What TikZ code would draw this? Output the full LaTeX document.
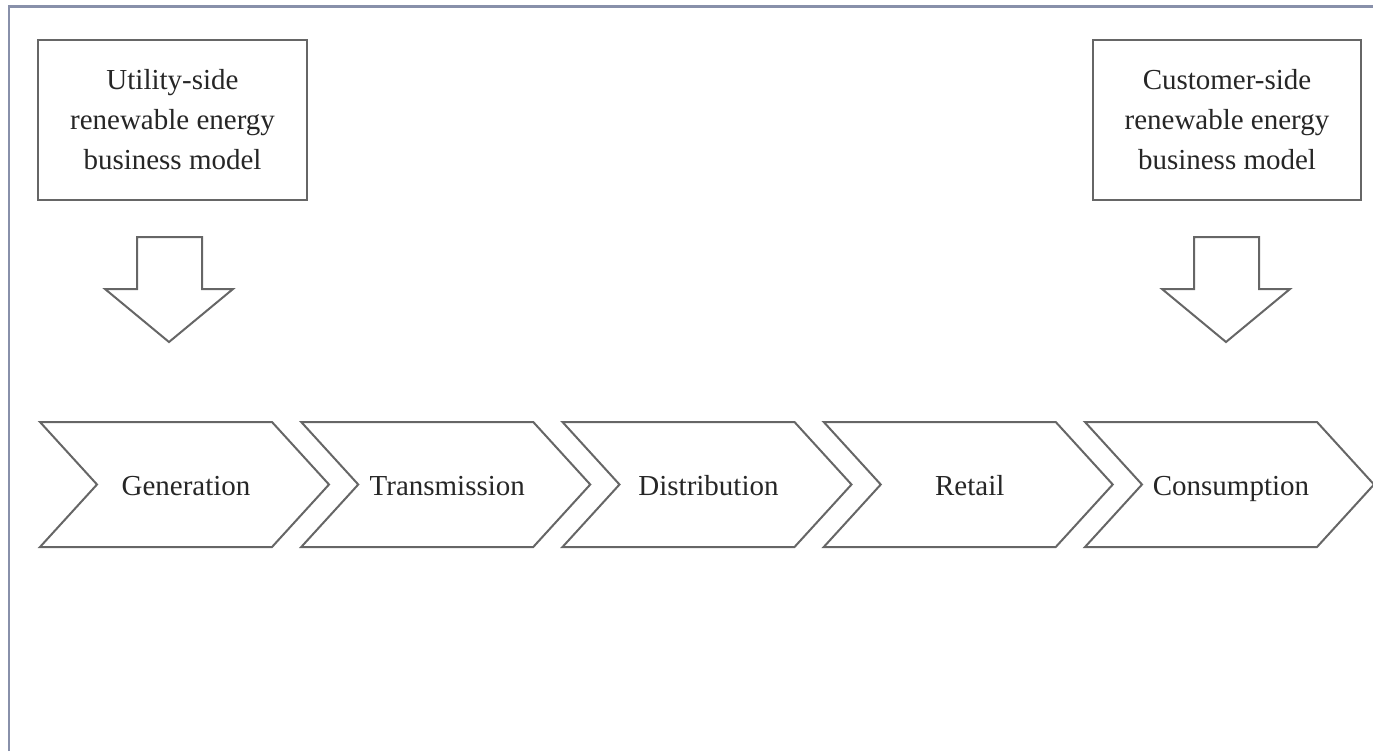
\documentclass[tikz,border=0pt]{standalone}
\usepackage{fontspec}
\setmainfont{Liberation Serif}

\tikzset{
	frameline/.style={line width=0.06cm, color={rgb,255:red,136;green,144;blue,170}},
	stageline/.style={line width=0.04cm, draw=black!60},
	modelbox/.style={stageline, minimum width=5.38cm, minimum height=3.2cm, inner sep=0pt},
	lbl/.style={text=black!85, font=\fontsize{16.5}{22.8}\selectfont, align=center},
}

\begin{document}
\begin{tikzpicture}[x=0.02cm, y=-0.02cm]
			%%%%% START %%%%%
			
			\useasboundingbox (0, 0) rectangle (1373, 751);
			
			\draw[frameline] (9, 751) -- (9, 6) -- (1373, 6);
			
			\node[modelbox, lbl] (utility) at (172.5, 120) {Utility-side\\renewable energy\\business model};
			\node[modelbox, lbl] (customer) at (1227, 120) {Customer-side\\renewable energy\\business model};
			
			\draw[stageline] (137, 237) -- (202, 237) -- (202, 289) -- (233, 289) -- (169, 342) -- (105, 289) -- (137, 289) -- cycle;
			\draw[stageline] (1194, 237) -- (1259, 237) -- (1259, 289) -- (1290, 289) -- (1226, 342) -- (1162, 289) -- (1194, 289) -- cycle;
			
			\foreach \x/\name/\txt in {40/gen/Generation, 301.25/tra/Transmission, 562.5/dis/Distribution, 823.75/ret/Retail, 1085/con/Consumption}
			{
				\draw[stageline] (\x, 422) -- (\x+232, 422) -- (\x+289, 484.5) -- (\x+232, 547) -- (\x, 547) -- (\x+57, 484.5) -- cycle;
				\node[lbl, anchor=base] (\name) at (\x+146, 495) {\txt};
			}
			
			%%%%% END %%%%%
		\end{tikzpicture}
\end{document}
